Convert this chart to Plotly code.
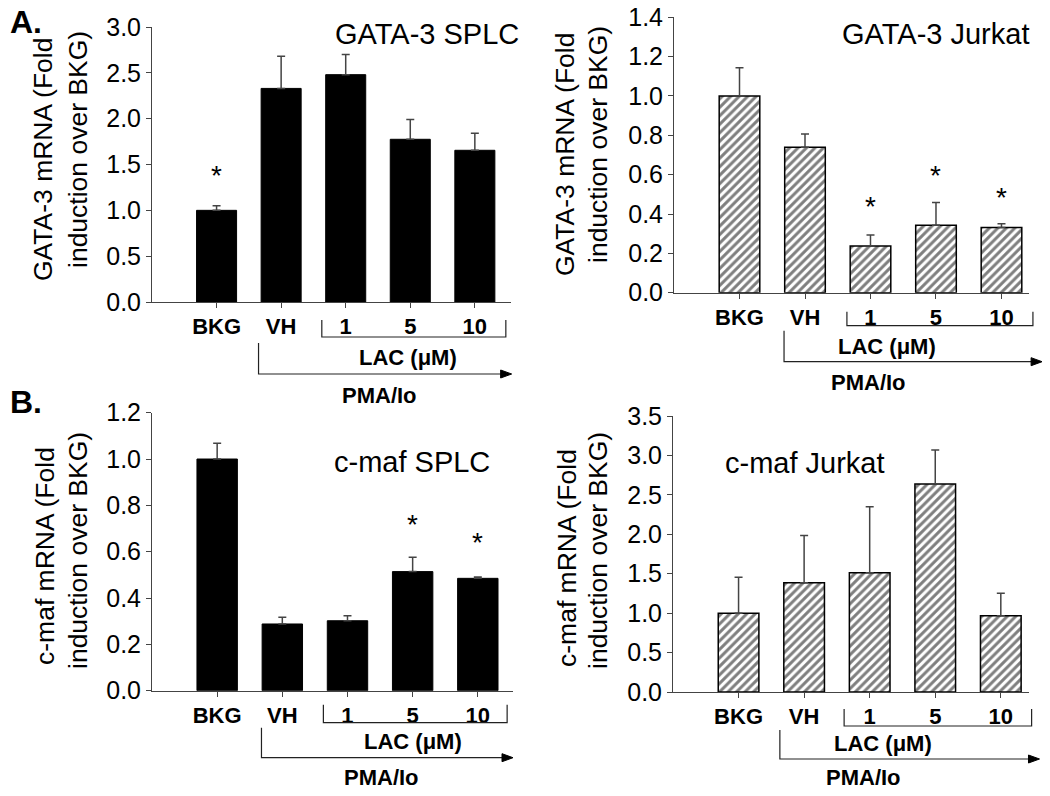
import plotly.graph_objects as go

# page body adds an 8px margin; figure is sized to fit the 1050x796 window
OFF = 8
FW, FH = 1050 - 2 * OFF, 796 - 2 * OFF
FONT = "Liberation Sans, Arial, sans-serif"

# ---------------- data ----------------
categories = ["BKG", "VH", "1", "5", "10"]

gata3_splc = [1.00, 2.33, 2.48, 1.775, 1.655]
gata3_splc_err = [0.05, 0.35, 0.22, 0.215, 0.185]
gata3_splc_star = [1.41, None, None, None, None]

gata3_jurkat = [1.00, 0.739, 0.237, 0.343, 0.331]
gata3_jurkat_err = [0.144, 0.068, 0.056, 0.115, 0.02]
gata3_jurkat_star = [None, None, 0.455, 0.612, 0.497]

cmaf_splc = [1.00, 0.288, 0.302, 0.514, 0.485]
cmaf_splc_err = [0.068, 0.029, 0.022, 0.062, 0.006]
cmaf_splc_star = [1.226, None, None, 0.73, 0.653]

cmaf_jurkat = [1.00, 1.386, 1.513, 2.638, 0.968]
cmaf_jurkat_err = [0.455, 0.60, 0.837, 0.431, 0.284]
cmaf_jurkat_star = [None, None, None, None, None]

titles = ["GATA-3 SPLC", "GATA-3 Jurkat", "c-maf SPLC", "c-maf Jurkat"]
ytitle_l1 = ["GATA-3 mRNA (Fold", "GATA-3 mRNA (Fold", "c-maf mRNA (Fold", "c-maf mRNA (Fold"]
ytitle_l2 = "induction over BKG)"
group_label = "LAC (\u03bcM)"
stim_label = "PMA/Io"

# ---------------- layout geometry (window pixels) ----------------
panels = [
    dict(vals=gata3_splc, err=gata3_splc_err, star=gata3_splc_star, hatch=False,
         xpx=(152, 511), ypx=(27, 302), xr=(-1, 4.56), yr=(0, 3.0), dtick=0.5,
         title_xy=(427, 34), yt1=(43, 160), yt2=(78, 150),
         brk=(1.63, 4.48, 18, 35), arr=(0.65, 4.57, 41, 72), lac=(2.96, 56), pma=(2.53, 93)),
    dict(vals=gata3_jurkat, err=gata3_jurkat_err, star=gata3_jurkat_star, hatch=True,
         xpx=(674, 1029), ypx=(17.3, 292.7), xr=(-1, 4.42), yr=(0, 1.4), dtick=0.2,
         title_xy=(935, 34), yt1=(565, 155), yt2=(598, 145),
         brk=(1.64, 4.48, 19, 33), arr=(0.68, 4.62, 38, 69), lac=(3.03, 54), pma=(2.56, 89)),
    dict(vals=cmaf_splc, err=cmaf_splc_err, star=cmaf_splc_star, hatch=False,
         xpx=(152, 513), ypx=(412.7, 690.7), xr=(-1, 4.54), yr=(0, 1.2), dtick=0.2,
         title_xy=(412, 462), yt1=(45, 556), yt2=(78, 551),
         brk=(1.63, 4.45, 14, 32), arr=(0.68, 4.54, 37, 67), lac=(3.0, 51), pma=(2.52, 86)),
    dict(vals=cmaf_jurkat, err=cmaf_jurkat_err, star=cmaf_jurkat_star, hatch=True,
         xpx=(673, 1029), ypx=(416, 692), xr=(-1, 4.43), yr=(0, 3.5), dtick=0.5,
         title_xy=(805, 463), yt1=(567, 558), yt2=(598, 551),
         brk=(1.61, 4.47, 17, 34), arr=(0.63, 4.59, 38, 67), lac=(2.98, 51), pma=(2.50, 85)),
]

def px_x(px):
    return (px - OFF) / FW

def px_y(py):
    return 1 - (py - OFF) / FH

fig = go.Figure()
shapes = []
annotations = []

for i, p in enumerate(panels, start=1):
    sfx = "" if i == 1 else str(i)
    xd = [px_x(p["xpx"][0]), px_x(p["xpx"][1])]
    yd = [px_y(p["ypx"][1]), px_y(p["ypx"][0])]

    if p["hatch"]:
        marker = dict(color="white", line=dict(color="black", width=1.5),
                      pattern=dict(shape="/", fgcolor="black", bgcolor="white",
                                   size=6, solidity=0.5))
    else:
        marker = dict(color="black", line=dict(color="black", width=1))

    fig.add_trace(go.Bar(
        x=categories, y=p["vals"], width=0.62, marker=marker,
        xaxis="x" + sfx, yaxis="y" + sfx, showlegend=False,
        error_y=dict(type="data", array=p["err"], arrayminus=[0] * len(p["err"]),
                     symmetric=False, color="#444", thickness=1.5, width=4),
    ))

    ytop = p["yr"][1]
    fig.layout["xaxis" + sfx] = dict(
        domain=xd, anchor="y" + sfx, type="category", categoryorder="array",
        categoryarray=categories, range=list(p["xr"]), showline=True,
        linecolor="#444", linewidth=1, ticks="outside", ticklen=5, tickcolor="#444",
        tickfont=dict(family=FONT, size=22, color="black", weight="bold"),
        showgrid=False, zeroline=False, fixedrange=True, automargin=False,
    )
    fig.layout["yaxis" + sfx] = dict(
        domain=yd, anchor="x" + sfx, range=[0, ytop * (1 + 1e-9)], dtick=p["dtick"],
        tick0=0, tickformat=".1f", showline=True, linecolor="#444", linewidth=1,
        ticks="outside", ticklen=5, tickcolor="#444", ticklabeloverflow="allow",
        tickfont=dict(family=FONT, size=25, color="black"),
        showgrid=False, zeroline=False, fixedrange=True, automargin=False,
    )

    # stars (category index positions)
    for ci, s in enumerate(p["star"]):
        if s is not None:
            annotations.append(dict(x=ci, y=s, xref="x" + sfx, yref="y" + sfx,
                                    text="*", showarrow=False, yshift=-3,
                                    font=dict(family=FONT, size=28, color="black")))

    # title
    tx, ty = p["title_xy"]
    annotations.append(dict(x=px_x(tx), y=px_y(ty), xref="paper", yref="paper",
                            text=titles[i - 1], showarrow=False, xanchor="center",
                            yanchor="middle",
                            font=dict(family=FONT, size=29, color="black")))
    # y axis title (two lines)
    for (lx, ly), txt in ((p["yt1"], ytitle_l1[i - 1]), (p["yt2"], ytitle_l2)):
        annotations.append(dict(x=px_x(lx), y=px_y(ly), xref="paper", yref="paper",
                                text=txt, showarrow=False, textangle=-90,
                                xanchor="center", yanchor="middle",
                                font=dict(family=FONT, size=26.5, color="black")))

    def dx(v, p=p, xd=xd):
        r0, r1 = p["xr"]
        return xd[0] + (v - r0) / (r1 - r0) * (xd[1] - xd[0])

    base = p["ypx"][1]

    def dy(off, base=base):
        return px_y(base + off)

    line = dict(color="#222", width=1.2)
    # LAC bracket
    b0, b1, bt, bb = p["brk"]
    shapes.append(dict(type="path", xref="paper", yref="paper",
                       path=f"M {dx(b0)},{dy(bt)} L {dx(b0)},{dy(bb)} L {dx(b1)},{dy(bb)} L {dx(b1)},{dy(bt)}",
                       line=line))
    # PMA/Io arrow
    a0, a1, at, ab = p["arr"]
    ax0, ax1 = dx(a0), dx(a1)
    shapes.append(dict(type="path", xref="paper", yref="paper",
                       path=f"M {ax0},{dy(at)} L {ax0},{dy(ab)} L {ax1 - 4 / FW},{dy(ab)}",
                       line=line))
    shapes.append(dict(type="path", xref="paper", yref="paper",
                       path=f"M {ax1},{dy(ab)} L {ax1 - 11 / FW},{dy(ab - 4)} L {ax1 - 11 / FW},{dy(ab + 4)} Z",
                       fillcolor="black", line=dict(color="black", width=1)))
    lx_, ly_ = p["lac"]
    annotations.append(dict(x=dx(lx_), y=dy(ly_), xref="paper", yref="paper",
                            text=group_label, showarrow=False, yanchor="middle",
                            font=dict(family=FONT, size=22, color="black", weight="bold")))
    mx_, my_ = p["pma"]
    annotations.append(dict(x=dx(mx_), y=dy(my_), xref="paper", yref="paper",
                            text=stim_label, showarrow=False, yanchor="middle",
                            height=24, borderpad=0,
                            font=dict(family=FONT, size=22, color="black", weight="bold")))

# panel letters
for letter, ly in (("A.", 22), ("B.", 402)):
    annotations.append(dict(x=px_x(9), y=px_y(ly), xref="paper", yref="paper", text=letter,
                            showarrow=False, xanchor="left", yanchor="middle",
                            height=26, borderpad=0,
                            font=dict(family=FONT, size=32, color="black", weight="bold")))

fig.update_layout(
    width=FW, height=FH, margin=dict(l=0, r=0, t=0, b=0, autoexpand=False),
    paper_bgcolor="white", plot_bgcolor="white",
    shapes=shapes, annotations=annotations, bargap=0.3,
    font=dict(family=FONT, color="black"),
)

fig.write_html("out.html")
